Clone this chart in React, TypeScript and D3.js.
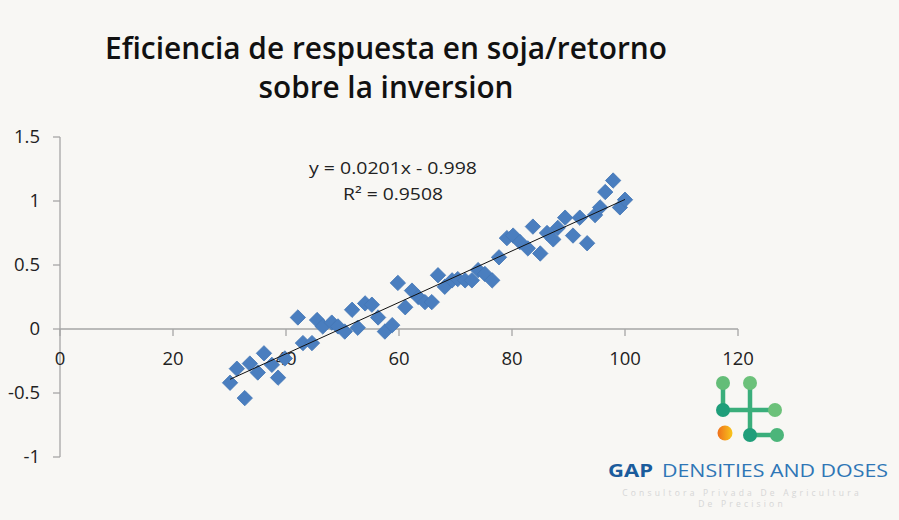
import { useEffect, useRef } from 'react';
import * as d3 from 'd3';

// values (x, y)
const xValues = [
    30.1, 31.3, 32.7, 33.6, 35.0, 36.1, 37.5, 38.6, 39.8, 42.1, 43.0, 44.6, 45.5, 46.5, 48.1,
    49.2, 50.4, 51.7, 52.7, 54.0, 55.2, 56.3, 57.5, 58.8, 59.8, 61.1, 62.3, 63.4, 64.6, 65.8,
    66.9, 68.1, 69.4, 70.4, 71.7, 72.9, 74.0, 75.2, 76.5, 77.7, 79.1, 80.2, 81.4, 82.8, 83.7,
    85.0, 86.2, 87.3, 88.1, 89.4, 90.8, 92.0, 93.3, 94.7, 95.6, 96.5, 97.9, 99.1, 100.0,
];
const yValues = [
    -0.42, -0.31, -0.54, -0.27, -0.34, -0.19, -0.28, -0.38, -0.23, 0.09, -0.11, -0.11, 0.07, 0.02, 0.05,
    0.02, -0.02, 0.15, 0.01, 0.2, 0.19, 0.09, -0.02, 0.03, 0.36, 0.17, 0.3, 0.25, 0.21, 0.21,
    0.42, 0.33, 0.38, 0.39, 0.38, 0.38, 0.46, 0.43, 0.38, 0.56, 0.71, 0.73, 0.68, 0.63, 0.8,
    0.59, 0.75, 0.7, 0.79, 0.87, 0.73, 0.87, 0.67, 0.89, 0.95, 1.07, 1.16, 0.95, 1.01,
];
const xTicks = [0, 20, 40, 60, 80, 100, 120];
const yTicks = [-1, -0.5, 0, 0.5, 1, 1.5];
const slope = 0.0201;
const intercept = -0.998;
const titleLines = ['Eficiencia de respuesta en soja/retorno', 'sobre la inversion'];
const equationLines = ['y = 0.0201x - 0.998', 'R² = 0.9508'];

const W = 899;
const H = 520;

const App = () => {
    const svgRef = useRef<SVGSVGElement>(null);

    useEffect(() => {
        d3.select(svgRef.current).selectAll('*').remove();
        const svg = d3.select(svgRef.current);

        svg.append('rect').attr('width', W).attr('height', H).attr('fill', '#f8f7f4');

        const x = d3.scaleLinear().domain([0, 120]).range([60, 738]);
        const y = d3.scaleLinear().domain([-1, 1.5]).range([457, 137]);

        // title
        svg.append('g')
            .selectAll('text')
            .data(titleLines)
            .join('text')
            .attr('x', 386)
            .attr('y', (_, i) => 59 + i * 39)
            .attr('text-anchor', 'middle')
            .attr('font-family', 'Open Sans')
            .attr('font-weight', 600)
            .attr('font-size', 30)
            .attr('textLength', (_, i) => (i === 0 ? 562 : 255))
            .attr('lengthAdjust', 'spacingAndGlyphs')
            .attr('fill', '#111')
            .text(d => d);

        // y axis
        const yAxis = svg.append('g').attr('transform', `translate(${x(0)},0)`);
        yAxis.append('line')
            .attr('y1', y(-1))
            .attr('y2', y(1.5))
            .attr('stroke', '#a6a6a6')
            .attr('stroke-width', 1.3);
        yAxis.selectAll('line.tick')
            .data(yTicks)
            .join('line')
            .attr('class', 'tick')
            .attr('x1', -7)
            .attr('x2', 0)
            .attr('y1', d => y(d))
            .attr('y2', d => y(d))
            .attr('stroke', '#a6a6a6')
            .attr('stroke-width', 1.3);
        yAxis.selectAll('text')
            .data(yTicks)
            .join('text')
            .attr('x', -20)
            .attr('y', d => y(d))
            .attr('dy', '0.35em')
            .attr('text-anchor', 'end')
            .attr('font-family', 'Open Sans')
            .attr('font-size', 18.5)
            .attr('fill', '#222')
            .text(d => String(d));

        // x axis (crosses at y = 0)
        const xAxis = svg.append('g').attr('transform', `translate(0,${y(0)})`);
        xAxis.append('line')
            .attr('x1', x(0))
            .attr('x2', x(120))
            .attr('stroke', '#a6a6a6')
            .attr('stroke-width', 1.3);
        xAxis.selectAll('line.tick')
            .data(xTicks)
            .join('line')
            .attr('class', 'tick')
            .attr('x1', d => x(d))
            .attr('x2', d => x(d))
            .attr('y1', 0)
            .attr('y2', 7)
            .attr('stroke', '#a6a6a6')
            .attr('stroke-width', 1.3);
        xAxis.selectAll('text')
            .data(xTicks)
            .join('text')
            .attr('x', d => x(d))
            .attr('y', 36)
            .attr('text-anchor', 'middle')
            .attr('font-family', 'Open Sans')
            .attr('font-size', 18.5)
            .attr('fill', '#222')
            .text(d => d);

        // markers
        const diamond = d3.symbol(d3.symbolSquare, 118)();
        svg.append('g')
            .selectAll('path')
            .data(xValues.map((v, i) => [v, yValues[i]]))
            .join('path')
            .attr('d', diamond)
            .attr('transform', d => `translate(${x(d[0])},${y(d[1])}) rotate(45)`)
            .attr('fill', '#4a7ebf')
            .attr('stroke', '#4577b6')
            .attr('stroke-width', 0.8);

        // linear trendline
        const x0 = d3.min(xValues) ?? 0;
        const x1 = d3.max(xValues) ?? 0;
        svg.append('line')
            .attr('x1', x(x0))
            .attr('y1', y(slope * x0 + intercept))
            .attr('x2', x(x1))
            .attr('y2', y(slope * x1 + intercept))
            .attr('stroke', '#111')
            .attr('stroke-width', 1);

        svg.append('g')
            .selectAll('text')
            .data(equationLines)
            .join('text')
            .attr('x', 393)
            .attr('y', (_, i) => 174 + i * 26)
            .attr('text-anchor', 'middle')
            .attr('font-family', 'Open Sans')
            .attr('font-size', 16.5)
            .attr('textLength', (_, i) => (i === 0 ? 168 : 100))
            .attr('lengthAdjust', 'spacingAndGlyphs')
            .attr('fill', '#222')
            .text(d => d);

        // logo
        const defs = svg.append('defs');
        const g2 = defs.append('linearGradient').attr('id', 'logoOrange')
            .attr('x1', 0).attr('y1', 0).attr('x2', 1).attr('y2', 0);
        g2.append('stop').attr('offset', '0%').attr('stop-color', '#ef6f1a');
        g2.append('stop').attr('offset', '100%').attr('stop-color', '#f8c61c');

        const logo = svg.append('g');
        const links = [
            [723, 383, 723, 410],
            [750, 383, 750, 435],
            [723, 410, 775, 410],
            [750, 435, 777, 435],
        ];
        logo.selectAll('line')
            .data(links)
            .join('line')
            .attr('x1', d => d[0]).attr('y1', d => d[1])
            .attr('x2', d => d[2]).attr('y2', d => d[3])
            .attr('stroke', '#3aae7b')
            .attr('stroke-width', 4.5);
        const nodes: [number, number, string][] = [
            [723, 383, '#64bd78'],
            [750, 383, '#6cc17a'],
            [723, 410, '#1f9e7a'],
            [775, 410, '#6cc17a'],
            [750, 435, '#1f9e7a'],
            [777, 435, '#4cb57a'],
        ];
        logo.selectAll('circle')
            .data(nodes)
            .join('circle')
            .attr('cx', d => d[0]).attr('cy', d => d[1])
            .attr('r', 7)
            .attr('fill', d => d[2]);
        logo.append('circle')
            .attr('cx', 725).attr('cy', 433).attr('r', 7.5)
            .attr('fill', 'url(#logoOrange)');

        logo.append('text')
            .attr('x', 608).attr('y', 477)
            .attr('font-family', 'Open Sans').attr('font-weight', 'bold').attr('font-size', 18)
            .attr('textLength', 45).attr('lengthAdjust', 'spacingAndGlyphs')
            .attr('fill', '#1b5c9c')
            .text('GAP');
        logo.append('text')
            .attr('x', 662).attr('y', 477)
            .attr('font-family', 'Open Sans').attr('font-size', 18)
            .attr('textLength', 226).attr('lengthAdjust', 'spacingAndGlyphs')
            .attr('fill', '#2e76b6')
            .text('DENSITIES AND DOSES');
        logo.selectAll('text.sub')
            .data(['Consultora Privada De Agricultura', 'De Precision'])
            .join('text')
            .attr('class', 'sub')
            .attr('x', 742)
            .attr('y', (_, i) => 496 + i * 11)
            .attr('text-anchor', 'middle')
            .attr('font-family', 'Open Sans')
            .attr('font-size', 8.5)
            .attr('letter-spacing', 3.2)
            .attr('fill', '#d6d6d6')
            .text(d => d);
    }, []);

    return (
        <svg
            ref={svgRef}
            width={W}
            height={H}
            style={{ position: 'absolute', left: 0, top: 0 }}
        ></svg>
    );
};

export default App;
